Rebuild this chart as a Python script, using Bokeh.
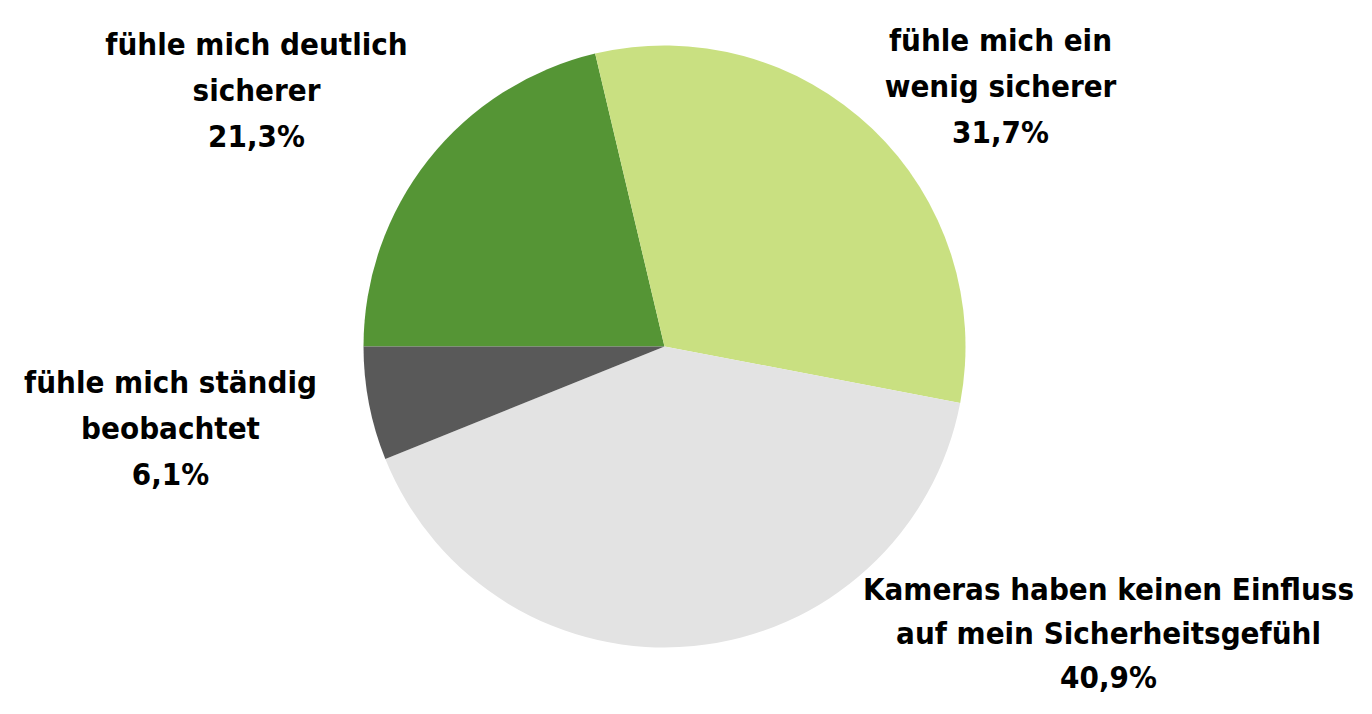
import math
from bokeh.plotting import figure
from bokeh.models import Range1d, ColumnDataSource
from bokeh.core.properties import value
from bokeh.embed import file_html
from bokeh.resources import INLINE

# Data (clockwise order starting at the 9 o'clock position)
categories = ["fühle mich deutlich sicherer", "fühle mich ein wenig sicherer",
              "Kameras haben keinen Einfluss auf mein Sicherheitsgefühl",
              "fühle mich ständig beobachtet"]
shares = [21.3, 31.7, 40.9, 6.1]
colors = ["#559535", "#c9e081", "#e3e3e3", "#595959"]
label_lines = [["fühle mich deutlich", "sicherer"],
               ["fühle mich ein", "wenig sicherer"],
               ["Kameras haben keinen Einfluss", "auf mein Sicherheitsgefühl"],
               ["fühle mich ständig", "beobachtet"]]

# layout (picture pixel coordinates; y measured from top)
W, H = 1356, 698
cx, cy, r = 664, 346, 301
label_pos = [(256, 43), (1000, 39), (1108, 588), (170, 381)]
line_gaps = [46, 46, 44, 46]
FONT = "'DejaVu Sans Condensed', Roboto, sans-serif"
FSIZE = "31px"

p = figure(width=W, height=H, output_backend="svg", toolbar_location=None,
           x_range=Range1d(0, W), y_range=Range1d(714 - H, 714),
           min_border=0)
p.axis.visible = False
p.grid.visible = False
p.outline_line_color = None
p.background_fill_color = "white"
p.border_fill_color = "white"

total = sum(shares)
starts, ends = [], []
cum = 0.0
for s in shares:
    starts.append(math.pi - cum / total * 2 * math.pi)
    cum += s
    ends.append(math.pi - cum / total * 2 * math.pi)

src = ColumnDataSource(dict(x=[cx] * 4, y=[714 - cy] * 4, start=starts, end=ends,
                            color=colors, cat=categories))
p.wedge(x="x", y="y", radius=r, radius_units="screen", start_angle="start",
        end_angle="end", direction="clock", fill_color="color", line_color=None,
        source=src)

tx, ty, tt = [], [], []
for (lx, ly), gap, lines, s in zip(label_pos, line_gaps, label_lines, shares):
    all_lines = lines + [f"{s:.1f}".replace(".", ",") + "%"]
    for i, t in enumerate(all_lines):
        tx.append(lx)
        ty.append(714 - (ly + i * gap))
        tt.append(t)

p.text(x=tx, y=ty, text=tt, text_align="center", text_baseline="alphabetic",
       text_font=value(FONT), text_font_size=FSIZE, text_font_style="bold",
       text_color="black")

open("out.html", "w").write(file_html(p, INLINE))
